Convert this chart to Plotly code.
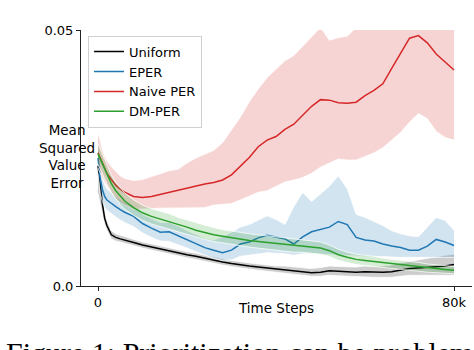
import numpy as np
import plotly.graph_objects as go

# time steps in thousands
steps = [0, 0.5, 1, 1.5, 2, 3, 4, 5, 6, 8, 10, 12, 14, 16, 18, 20, 22, 24, 26, 28, 30, 32, 34, 36, 38,
         40, 42, 44, 46, 48, 50, 52, 54, 56, 58, 60, 62, 64, 66, 68, 70, 72, 74, 76, 78, 80]

# values in units of 1e-3
uniform = [23.5, 19.0, 16.0, 13.2, 11.8, 10.0, 9.5, 9.2, 9.0, 8.5, 8.0, 7.6, 7.2, 6.8, 6.4, 6.1, 5.8, 5.4,
           5.0, 4.7, 4.4, 4.1, 3.9, 3.7, 3.5, 3.3, 3.2, 2.9, 2.7, 2.6, 2.7, 3.0, 2.9, 2.8, 2.7, 2.8, 2.7,
           2.7, 2.8, 3.1, 3.4, 3.5, 3.6, 3.8, 3.9, 4.2]
uniform_lo = [18.0, 16.0, 14.2, 12.0, 10.9, 9.2, 8.8, 8.6, 8.4, 7.9, 7.4, 7.0, 6.6, 6.2, 5.8, 5.5, 5.2, 4.8,
              4.4, 4.1, 3.8, 3.5, 3.3, 3.1, 2.9, 2.7, 2.5, 2.2, 2.0, 1.9, 1.9, 2.1, 2.0, 1.9, 1.8, 1.8, 1.7,
              1.7, 1.7, 1.9, 2.1, 2.1, 2.1, 2.1, 2.1, 2.1]
uniform_hi = [29.5, 22.5, 18.0, 14.5, 12.8, 10.8, 10.2, 9.9, 9.6, 9.1, 8.6, 8.2, 7.8, 7.4, 7.0, 6.7, 6.4, 6.0,
              5.6, 5.3, 5.0, 4.7, 4.5, 4.3, 4.1, 3.9, 3.9, 3.7, 3.5, 3.4, 3.6, 3.9, 3.8, 3.8, 3.7, 3.9, 3.8,
              3.9, 4.1, 4.5, 4.8, 5.2, 5.5, 5.8, 6.0, 6.2]

eper = [25.0, 21.0, 18.8, 17.5, 16.8, 16.1, 15.5, 14.9, 14.4, 13.6, 12.2, 11.3, 10.5, 10.6, 9.8, 9.0, 8.3, 7.5,
        7.0, 6.5, 7.0, 8.2, 8.6, 9.4, 9.9, 9.5, 9.2, 8.2, 9.6, 10.6, 11.1, 11.5, 12.6, 12.0, 9.5, 9.0, 8.8,
        8.2, 7.8, 7.5, 7.0, 7.0, 7.8, 9.1, 8.6, 7.9]
eper_lo = [22.0, 18.0, 16.5, 15.4, 14.8, 14.1, 13.5, 12.9, 12.4, 11.6, 10.4, 9.5, 8.8, 8.7, 8.1, 7.4, 6.7, 6.0,
           5.4, 5.0, 5.1, 5.8, 6.0, 6.3, 6.5, 6.4, 6.3, 6.0, 6.3, 6.3, 6.2, 6.1, 6.0, 5.9, 5.8, 5.8, 5.8,
           5.7, 5.7, 5.6, 5.6, 5.6, 5.6, 5.6, 5.6, 5.6]
eper_hi = [28.0, 24.0, 21.0, 19.8, 19.0, 18.2, 17.5, 16.9, 16.4, 15.6, 14.0, 13.2, 12.4, 12.4, 11.7, 10.8, 10.0,
           9.3, 9.0, 9.6, 10.5, 11.5, 12.0, 12.8, 13.7, 13.0, 12.0, 15.5, 18.3, 16.5, 18.0, 19.5, 21.5, 19.0,
           14.0, 13.4, 12.6, 11.8, 10.8, 10.2, 9.8, 9.6, 11.5, 13.4, 12.8, 10.9]

naive = [26.0, 25.0, 24.0, 23.0, 22.0, 20.8, 19.7, 18.9, 18.3, 17.5, 17.3, 17.5, 17.9, 18.4, 18.8, 19.2, 19.6,
         19.9, 20.2, 20.7, 21.7, 23.3, 25.1, 27.2, 28.5, 29.2, 30.6, 31.6, 33.3, 35.1, 36.4, 36.3, 35.8, 35.7,
         35.9, 37.2, 38.2, 39.5, 42.5, 45.6, 48.4, 48.9, 47.5, 45.3, 43.8, 42.2]
naive_lo = [23.0, 22.0, 21.0, 20.2, 19.5, 18.2, 17.0, 16.3, 15.8, 15.0, 15.0, 15.1, 15.2, 15.2, 15.2, 15.2, 15.2,
            15.3, 15.8, 16.0, 16.1, 16.8, 17.6, 18.3, 18.6, 19.4, 20.3, 20.7, 21.2, 22.0, 23.2, 24.0, 24.8,
            24.6, 24.6, 25.3, 26.0, 27.0, 28.5, 30.0, 32.0, 33.7, 32.7, 30.2, 29.0, 28.5]
naive_hi = [30.0, 28.0, 26.5, 25.4, 24.5, 23.3, 22.3, 21.5, 21.0, 20.6, 20.8, 21.4, 22.0, 22.5, 22.8, 24.0, 25.0,
            25.7, 26.5, 28.0, 30.5, 33.0, 36.0, 38.5, 40.7, 42.3, 44.0, 45.0, 46.8, 48.5, 50.5, 48.0, 48.5,
            48.8, 50.5, 53.0, 55.0, 56.0, 57.0, 58.0, 58.0, 58.0, 57.0, 56.0, 55.0, 54.0]

dmper = [25.8, 24.8, 23.8, 22.8, 21.8, 20.0, 18.6, 17.5, 16.6, 15.3, 14.3, 13.6, 13.1, 12.6, 12.0, 11.5, 10.9,
         10.4, 10.0, 9.7, 9.4, 9.1, 8.9, 8.7, 8.5, 8.3, 8.1, 7.9, 7.8, 7.6, 7.4, 6.9, 6.1, 5.6, 5.2, 5.0, 4.8,
         4.5, 4.3, 4.2, 4.0, 3.7, 3.5, 3.4, 3.2, 3.1]
dmper_lo = [23.8, 22.8, 21.9, 21.0, 20.0, 18.3, 17.0, 15.9, 15.0, 13.8, 12.8, 12.1, 11.6, 11.1, 10.6, 10.1, 9.5,
            9.1, 8.7, 8.4, 8.1, 7.8, 7.6, 7.4, 7.2, 7.0, 6.8, 6.6, 6.6, 6.4, 6.2, 5.8, 5.0, 4.6, 4.2, 4.0, 3.8,
            3.6, 3.4, 3.3, 3.1, 2.9, 2.7, 2.6, 2.5, 2.4]
dmper_hi = [27.8, 26.8, 25.7, 24.6, 23.6, 21.7, 20.2, 19.1, 18.2, 16.8, 15.8, 15.1, 14.6, 14.1, 13.4, 12.9, 12.3,
            11.8, 11.4, 11.0, 10.7, 10.4, 10.2, 10.0, 9.8, 9.6, 9.4, 9.2, 9.0, 8.8, 8.6, 8.0, 7.2, 6.6, 6.2,
            6.0, 5.8, 5.4, 5.2, 5.1, 4.9, 4.6, 4.3, 4.1, 3.9, 3.8]

series = [
    ("Uniform", uniform, uniform_lo, uniform_hi, (0, 0, 0)),
    ("EPER", eper, eper_lo, eper_hi, (31, 119, 180)),
    ("Naive PER", naive, naive_lo, naive_hi, (214, 39, 40)),
    ("DM-PER", dmper, dmper_lo, dmper_hi, (44, 160, 44)),
]

fig = go.Figure()
for name, mean, lo, hi, c in series:
    rgb = "rgb(%d,%d,%d)" % c
    band = "rgba(%d,%d,%d,0.2)" % c
    edge = dict(color="rgba(255,255,255,0.75)", width=1)
    fig.add_trace(go.Scatter(x=steps, y=np.array(lo) / 1000, mode="lines", line=edge,
                             showlegend=False, hoverinfo="skip"))
    fig.add_trace(go.Scatter(x=steps, y=np.array(hi) / 1000, mode="lines", line=edge,
                             fill="tonexty", fillcolor=band, showlegend=False, hoverinfo="skip"))
    fig.add_trace(go.Scatter(x=steps, y=np.array(mean) / 1000, mode="lines", name=name,
                             line=dict(color=rgb, width=1.5)))

font = "DejaVu Sans"
fig.update_layout(
    width=474, height=350,
    margin=dict(l=81, r=2, t=30, b=64, autoexpand=False),
    paper_bgcolor="white", plot_bgcolor="white",
    font=dict(family=font, size=13, color="black"),
    showlegend=True,
    legend=dict(x=0.018, y=0.978, xanchor="left", yanchor="top", traceorder="normal",
                bgcolor="rgba(255,255,255,0.8)", bordercolor="#d0d0d0", borderwidth=1,
                font=dict(family=font, size=13), itemwidth=30, tracegroupgap=0),
    xaxis=dict(range=[-3.82, 84.04], tickvals=[0, 80], ticktext=["0", "80k"],
               showline=True, linecolor="#222", linewidth=1, ticks="outside", ticklen=4,
               tickcolor="#222", showgrid=False, zeroline=False),
    yaxis=dict(range=[0, 0.05], tickvals=[0, 0.05], ticktext=["0.0", "0.05"],
               showline=True, linecolor="#222", linewidth=1, ticks="outside", ticklen=4,
               tickcolor="#222", showgrid=False, zeroline=False),
)

fig.add_annotation(text="Mean<br>Squared<br>Value<br>Error", xref="paper", yref="paper",
                   x=-0.1125, y=0.504, showarrow=False, align="center",
                   font=dict(family=font, size=13.5))
fig.add_annotation(text="Time Steps", xref="paper", yref="paper", x=0.4987, y=-0.125,
                   showarrow=False, font=dict(family=font, size=13.5))
fig.add_annotation(text="Figure 1: Prioritization can be problem", xref="paper", yref="paper",
                   x=-0.196, y=-0.188, xanchor="left", yanchor="top", showarrow=False,
                   font=dict(family="Liberation Serif", size=30))

# drop the browser's default body margin so the figure sits at the page corner
fig.write_html("out.html", config={"displayModeBar": False},
               post_script="document.body.style.margin='0';")
